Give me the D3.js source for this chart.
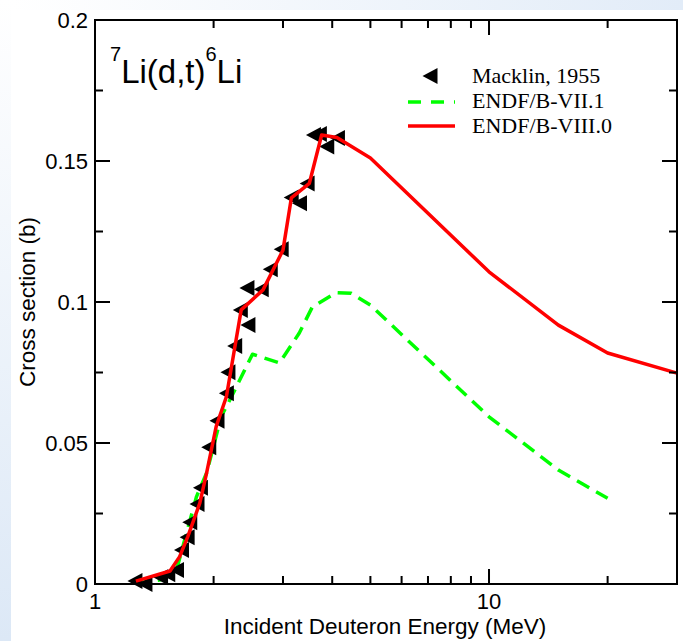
<!DOCTYPE html>
<html>
<head>
<meta charset="utf-8">
<script src="https://cdn.jsdelivr.net/npm/d3@7"></script>
<style>
  html, body { margin: 0; padding: 0; background: #fff; }
  svg { display: block; }
</style>
</head>
<body>
<div id="chart"></div>
<script>
// ---- data ----
const macklinE  = [1.263, 1.339, 1.467, 1.530, 1.610, 1.658, 1.713, 1.740, 1.815, 1.852, 1.944, 2.040, 2.155, 2.175, 2.262, 2.338, 2.444, 2.430, 2.642, 2.785, 2.969, 3.147, 3.304, 3.455, 3.584, 3.711, 3.874, 4.124];
const macklinXS = [0.0011, 0.0000, 0.0024, 0.0035, 0.0050, 0.0121, 0.0166, 0.0219, 0.0284, 0.0341, 0.0485, 0.0579, 0.0676, 0.0751, 0.0844, 0.0972, 0.0918, 0.1050, 0.1045, 0.1116, 0.1187, 0.1371, 0.1350, 0.1420, 0.1592, 0.1596, 0.1551, 0.1582];

const vii1E  = [1.27, 1.46, 1.61, 1.81, 1.92, 2.09, 2.22, 2.51, 2.94, 3.30, 3.56, 4.09, 4.47, 5, 10, 15, 20];
const vii1XS = [0.0004, 0.0014, 0.0050, 0.0310, 0.0394, 0.0593, 0.0664, 0.0815, 0.0784, 0.0890, 0.0982, 0.1033, 0.1031, 0.0989, 0.0593, 0.0404, 0.0304];

const viii0E  = [1.27, 1.55, 1.64, 1.72, 1.845, 1.92, 2.03, 2.155, 2.35, 2.67, 3.0, 3.15, 3.5, 3.76, 4.11, 5, 10, 15, 20, 30];
const viii0XS = [0.0010, 0.0046, 0.0097, 0.0168, 0.0287, 0.0394, 0.0558, 0.0664, 0.0972, 0.1043, 0.1184, 0.1369, 0.1421, 0.1592, 0.1583, 0.1511, 0.1107, 0.0918, 0.0819, 0.0748];

const xMajorTicks = [1, 10];
const xMinorTicks = [2, 3, 4, 5, 6, 7, 8, 9, 20];
const xTickLabels = ["1", "10"];
const yMajorTicks = [0, 0.05, 0.1, 0.15, 0.2];
const yMinorTicks = [0.025, 0.075, 0.125, 0.175];
const yTickLabels = ["0", "0.05", "0.1", "0.15", "0.2"];

const legendLabels = ["Macklin, 1955", "ENDF/B-VII.1", "ENDF/B-VIII.0"];
const xTitle = "Incident Deuteron Energy (MeV)";
const yTitle = "Cross section (b)";

// ---- layout ----
const W = 683, H = 641;
const L = 95, R = 677, T = 20, B = 584;
const sans = "'Liberation Sans', Arial, Helvetica, sans-serif";
const serif = "'Liberation Serif', 'Times New Roman', serif";

const svg = d3.select("#chart").append("svg").attr("width", W).attr("height", H);
const defs = svg.append("defs");
const gl = defs.append("linearGradient").attr("id", "gleft").attr("x1", 0).attr("y1", 0).attr("x2", 0).attr("y2", 1);
gl.append("stop").attr("offset", "0%").attr("stop-color", "#ffffff");
gl.append("stop").attr("offset", "100%").attr("stop-color", "#dce8f6");
const gt = defs.append("linearGradient").attr("id", "gtop").attr("x1", 0).attr("y1", 0).attr("x2", 1).attr("y2", 0);
gt.append("stop").attr("offset", "0%").attr("stop-color", "#ffffff");
gt.append("stop").attr("offset", "100%").attr("stop-color", "#e2ecf8");

svg.append("rect").attr("width", W).attr("height", H).attr("fill", "#fff");
svg.append("rect").attr("x", 0).attr("y", 0).attr("width", 11).attr("height", H).attr("fill", "url(#gleft)");
svg.append("rect").attr("x", 11).attr("y", 0).attr("width", W - 11).attr("height", 10).attr("fill", "url(#gtop)");

const x = d3.scaleLog().domain([1, 30]).range([L, R]);
const y = d3.scaleLinear().domain([0, 0.2]).range([B, T]);

// tick labels
svg.append("g").selectAll("text").data(xMajorTicks).join("text")
  .attr("x", d => x(d)).attr("y", 609).attr("text-anchor", "middle")
  .attr("font-family", sans).attr("font-size", 22).attr("fill", "#000")
  .text((d, i) => xTickLabels[i]);
svg.append("g").selectAll("text").data(yMajorTicks).join("text")
  .attr("x", 88).attr("y", d => y(d)).attr("dy", "0.35em").attr("text-anchor", "end")
  .attr("font-family", sans).attr("font-size", 22).attr("fill", "#000")
  .text((d, i) => yTickLabels[i]);

// ---- lines ----
const line = d3.line().x(d => x(d[0])).y(d => y(d[1]));
const viiData = vii1E.map((e, i) => [e, vii1XS[i]]);
const viiiData = viii0E.map((e, i) => [e, viii0XS[i]]);

svg.append("path").datum(viiData).attr("d", line)
  .attr("fill", "none").attr("stroke", "#00ff00").attr("stroke-width", 3.5)
  .attr("stroke-dasharray", "14,8").attr("stroke-linejoin", "round");

// ---- markers ----
const tri = "M-7.5,0L7.5,-8L7.5,8Z";
svg.append("g").selectAll("path").data(macklinE.map((e, i) => [e, macklinXS[i]]))
  .join("path")
  .attr("d", tri)
  .attr("transform", d => `translate(${x(d[0])},${y(d[1])})`)
  .attr("fill", "#000");

svg.append("path").datum(viiiData).attr("d", line)
  .attr("fill", "none").attr("stroke", "#ff0000").attr("stroke-width", 3.5)
  .attr("stroke-linejoin", "round");

// ---- frame ----
svg.append("rect").attr("x", L).attr("y", T).attr("width", R - L).attr("height", B - T)
  .attr("fill", "none").attr("stroke", "#000").attr("stroke-width", 2);

// ---- ticks (inward, positioned by the scales) ----
const majorLen = 15, minorLen = 8;
const tp = d3.path();
function xTicks(vals, len) {
  vals.forEach(v => {
    const px = x(v);
    tp.moveTo(px, B); tp.lineTo(px, B - len);
    tp.moveTo(px, T); tp.lineTo(px, T + len);
  });
}
function yTicks(vals, len) {
  vals.forEach(v => {
    const py = y(v);
    tp.moveTo(L, py); tp.lineTo(L + len, py);
    tp.moveTo(R, py); tp.lineTo(R - len, py);
  });
}
xTicks(xMajorTicks, majorLen);
xTicks(xMinorTicks, minorLen);
yTicks(yMajorTicks, majorLen);
yTicks(yMinorTicks, minorLen);
svg.append("path").attr("d", tp.toString()).attr("fill", "none")
  .attr("stroke", "#000").attr("stroke-width", 2);

// ---- axis titles ----
svg.append("text").attr("x", 385).attr("y", 634).attr("text-anchor", "middle")
  .attr("font-family", sans).attr("font-size", 22.5).attr("fill", "#000").text(xTitle);
svg.append("text").attr("transform", `translate(35,${(T + B) / 2}) rotate(-90)`)
  .attr("text-anchor", "middle").attr("font-family", sans).attr("font-size", 22.5).attr("fill", "#000").text(yTitle);

// ---- reaction label ----
const t = svg.append("text").attr("x", 110).attr("y", 83).attr("font-family", sans).attr("fill", "#000");
t.append("tspan").attr("font-size", 20).attr("dy", -22).text("7");
t.append("tspan").attr("font-size", 33).attr("dy", 22).text("Li(d,t)");
t.append("tspan").attr("font-size", 20).attr("dy", -22).text("6");
t.append("tspan").attr("font-size", 33).attr("dy", 22).text("Li");

// ---- legend ----
const lg = svg.append("g");
lg.append("path").attr("d", tri).attr("transform", "translate(430,76)").attr("fill", "#000");
lg.append("line").attr("x1", 408).attr("x2", 455).attr("y1", 102).attr("y2", 102)
  .attr("stroke", "#00ff00").attr("stroke-width", 3.5).attr("stroke-dasharray", "13,10");
lg.append("line").attr("x1", 408).attr("x2", 455).attr("y1", 126).attr("y2", 126)
  .attr("stroke", "#ff0000").attr("stroke-width", 3.5);
const legY = [83, 108, 133];
lg.selectAll("text.leg").data(legendLabels).join("text").attr("class", "leg")
  .attr("x", 472).attr("y", (d, i) => legY[i])
  .attr("font-family", serif).attr("font-size", 22).attr("fill", "#000").text(d => d);
</script>
</body>
</html>
